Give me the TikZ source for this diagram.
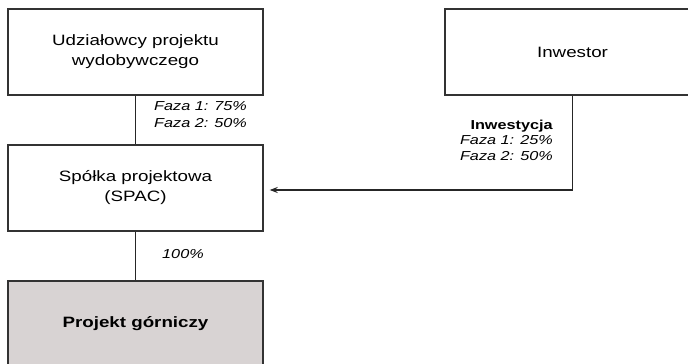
\documentclass[tikz,border=0pt]{standalone}
\usepackage{fontspec}
\setmainfont{Liberation Sans}[FakeStretch=1.25]
\usetikzlibrary{arrows.meta,positioning}
\definecolor{minegray}{RGB}{216,211,211}

\begin{document}
\begin{tikzpicture}[x=1pt, y=-1pt,
    box/.style={draw=black!80, line width=1.4pt, minimum width=255pt, minimum height=86pt,
      align=center, font=\fontsize{15}{20}\selectfont},
    share/.style={align=left, inner sep=0pt, font=\fontsize{13}{17}\selectfont\itshape},
    link/.style={draw=black!85, line width=1.3pt}]
  \useasboundingbox (0,0) rectangle (688,364);
  \node[box] (U) at (135.5, 52) {Udziałowcy projektu\\wydobywczego};
  \node[box] (I) at (572.5, 52) {Inwestor};
  \node[box] (S) at (135.5, 188) {Spółka projektowa\\(SPAC)};
  \node[box, fill=minegray, font=\fontsize{15}{20}\selectfont\bfseries] (P) at (135.5, 324) {Projekt górniczy};
  \node[share, anchor=west] (fU) at (154, 114.5) {Faza 1: 75\%\\Faza 2: 50\%};
  \node[share, anchor=east, align=right, font=\fontsize{13}{15.5}\selectfont] (fI) at (553, 140)
    {\textbf{Inwestycja}\\\textit{Faza 1: 25\%}\\\textit{Faza 2: 50\%}};
  \node[share, anchor=west] (fS) at (162, 254) {100\%};
  \draw[link] (U) -- (S);
  \draw[link] (S) -- (P);
  \draw[link, -{Stealth[length=8pt, width=6pt]}, shorten >=6pt] (I.south) |- ([yshift=-2pt]S.east);
\end{tikzpicture}
\end{document}
